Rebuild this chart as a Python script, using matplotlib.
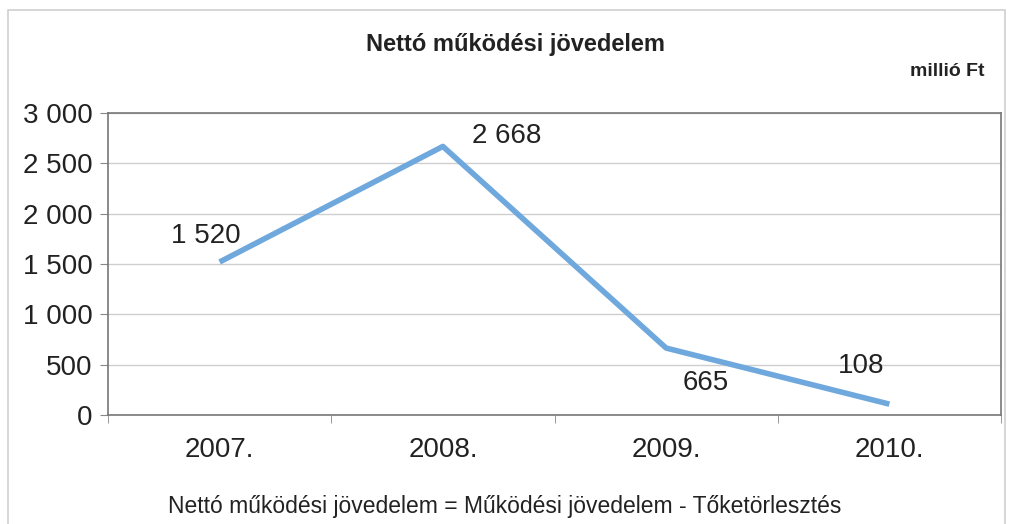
import matplotlib.pyplot as plt
from matplotlib.patches import Rectangle

plt.rcParams['font.family'] = ['Liberation Sans', 'DejaVu Sans']

# adatok
evek = ['2007.', '2008.', '2009.', '2010.']
ertekek = [1520, 2668, 665, 108]
cimkek = ['1 520', '2 668', '665', '108']
y_ticks = [0, 500, 1000, 1500, 2000, 2500, 3000]
y_cimkek = ['0', '500', '1 000', '1 500', '2 000', '2 500', '3 000']

# cimke eltolasok pixelben
eltolas = [(-14, 26), (64, 10), (40, -35), (-28, 38)]

fig = plt.figure(figsize=(10.1, 5.24), dpi=100)
fig.patches.append(Rectangle((8 / 1010, -0.01), 997 / 1010, 1 - 10 / 524 + 0.01,
                             transform=fig.transFigure, fill=False,
                             edgecolor='#d0d0d0', linewidth=1.2))

ax = fig.add_axes([108 / 1010, 1 - 415 / 524, 893 / 1010, 302 / 524])
x = list(range(len(evek)))
ax.plot(x, ertekek, color='#6fa8dc', linewidth=4, solid_capstyle='butt')

for i, (v, c) in enumerate(zip(ertekek, cimkek)):
    ax.annotate(c, (i, v), xytext=eltolas[i], textcoords='offset pixels',
                ha='center', va='center', fontsize=20, color='#222222')

ax.set_xlim(-0.5, len(evek) - 0.5)
ax.set_ylim(0, 3000)
ax.set_yticks(y_ticks)
ax.set_yticklabels(y_cimkek, fontsize=20, color='#222222')
ax.set_xticks(x)
ax.set_xticklabels(evek, fontsize=20, color='#222222')
ax.tick_params(axis='x', length=0, pad=16)
ax.tick_params(axis='y', length=6, color='#888888', pad=5)
ax.set_xticks([-0.5, 0.5, 1.5, 2.5, 3.5], minor=True)
ax.tick_params(axis='x', which='minor', length=6, color='#888888')
ax.grid(axis='y', color='#cfcfcf', linewidth=1)
ax.set_axisbelow(True)
for s in ax.spines.values():
    s.set_color('#777777')
    s.set_linewidth(1.2)

fig.text(515 / 1010, 1 - 44 / 524, 'Nettó működési jövedelem', ha='center', va='center',
         fontsize=17, fontweight='bold', color='#222222')
fig.text(985 / 1010, 1 - 72 / 524, 'millió Ft', ha='right', va='center',
         fontsize=14, fontweight='bold', color='#222222')
fig.text(505 / 1010, 1 - 506 / 524,
         'Nettó működési jövedelem = Működési jövedelem - Tőketörlesztés',
         ha='center', va='center', fontsize=16.5, color='#222222')

fig.savefig('out.png', dpi=100)
